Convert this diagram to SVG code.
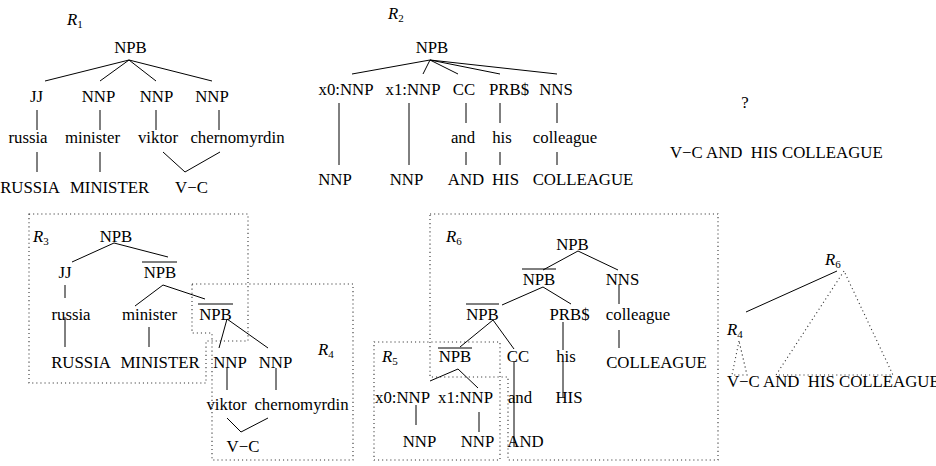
<svg xmlns="http://www.w3.org/2000/svg" width="936" height="466" viewBox="0 0 936 466">
<style>
text{font-family:"Liberation Serif","Times New Roman",serif;font-size:16.8px;fill:#000;text-anchor:middle}
.r{font-style:italic;text-anchor:start}
.s{font-size:11px;font-style:normal}
.st{text-anchor:start;white-space:pre}
.e{stroke:#000;stroke-width:1;fill:none}
.d{stroke:#333;stroke-width:1.1;fill:none;stroke-dasharray:1.1 3}
</style>
<rect width="936" height="466" fill="#fff"/>
<!-- regions -->
<g id="regions">
<path class="d" d="M29,214 H248 V341 H206 V383 H29 Z"/>
<path class="d" d="M192,284 H353 V460 H212 V333 H192 Z"/>
<path class="d" d="M430,214 H718 V460 H508 V377 H430 Z"/>
<rect class="d" x="374" y="342" width="126" height="118"/>
<path class="d" d="M739,341 L732,375 H747 Z"/>
<path class="d" d="M844,271 L776,375 H893 Z"/>
</g>
<g id="connectors">
<!-- R1 -->
<path class="e" d="M129,60 L45,81 M129,60 L100,81 M129,60 L156,81 M129,60 L212,81"/>
<path class="e" d="M37,110 V130 M100,110 V130 M156,110 V130 M219,110 V130"/>
<path class="e" d="M37,152 V172 M100,152 V172 M163,152 L185,172 L220,152"/>
<!-- R2 -->
<path class="e" d="M430,60 L352,74 M430,60 L423,74 M430,60 L458,74 M430,60 L500,74 M430,60 L557,74"/>
<path class="e" d="M339,103 V165 M409,103 V165 M466,103 V123 M500,103 V123 M557,103 V123"/>
<path class="e" d="M466,152 V165 M500,152 V165 M557,152 V165"/>
<!-- R3/R4 -->
<path class="e" d="M114,243 L72,262 M114,243 L168,257"/>
<path class="e" d="M65,285 V298 M163,285 L135,306 M163,285 L205,299"/>
<path class="e" d="M65,317 V347 M149,327 V347"/>
<path class="e" d="M227,319 L219,348 M227,319 L268,348"/>
<path class="e" d="M227,368 V390 M276,368 V390"/>
<path class="e" d="M227,418 L241,432 L268,418"/>
<!-- R5/R6 -->
<path class="e" d="M578,251 L543,270 M578,251 L618,270"/>
<path class="e" d="M543,287 L502,305 M543,287 L571,304 M619,285 V304"/>
<path class="e" d="M493,320 L460,347 M493,320 L514,349 M563,322 V350 M619,330 V348"/>
<path class="e" d="M514,362 V447 M563,362 V397"/>
<path class="e" d="M458,369 L430,381 M458,369 L478,388"/>
<path class="e" d="M416,405 V425 M479,412 V432"/>
<!-- right -->
<path class="e" d="M837,271 L746,312"/>
</g>
<!-- R1 tree -->
<g id="r1-label"><text class="r" x="67" y="25">R<tspan class="s" dy="3">1</tspan></text></g>
<g id="r1-npb"><text x="130.5" y="53">NPB</text></g>
<g id="r1-jj"><text x="36.5" y="102">JJ</text></g>
<g id="r1-nnp1"><text x="98.5" y="102">NNP</text></g>
<g id="r1-nnp2"><text x="156.5" y="102">NNP</text></g>
<g id="r1-nnp3"><text x="212" y="102">NNP</text></g>
<g id="r1-russia"><text x="28" y="143">russia</text></g>
<g id="r1-minister"><text x="92.5" y="143">minister</text></g>
<g id="r1-viktor"><text x="158" y="143">viktor</text></g>
<g id="r1-chern"><text x="237.5" y="143">chernomyrdin</text></g>
<g id="r1-RUSSIA"><text x="30" y="193">RUSSIA</text></g>
<g id="r1-MINISTER"><text x="109.5" y="193">MINISTER</text></g>
<g id="r1-VC"><text x="191.5" y="193">V−C</text></g>
<!-- R2 tree -->
<g id="r2-label"><text class="r" x="388" y="19">R<tspan class="s" dy="3">2</tspan></text></g>
<g id="r2-npb"><text x="432" y="53">NPB</text></g>
<g id="r2-x0"><text x="346" y="95">x0:NNP</text></g>
<g id="r2-x1"><text x="413" y="95">x1:NNP</text></g>
<g id="r2-cc"><text x="464" y="95">CC</text></g>
<g id="r2-prb"><text x="509" y="95">PRB$</text></g>
<g id="r2-nns"><text x="556" y="95">NNS</text></g>
<g id="r2-and"><text x="463" y="143">and</text></g>
<g id="r2-his"><text x="502" y="143">his</text></g>
<g id="r2-colleague"><text x="565" y="143">colleague</text></g>
<g id="r2-NNP1"><text x="335" y="185">NNP</text></g>
<g id="r2-NNP2"><text x="406.5" y="185">NNP</text></g>
<g id="r2-AND"><text x="466" y="185">AND</text></g>
<g id="r2-HIS"><text x="505.5" y="185">HIS</text></g>
<g id="r2-COLLEAGUE"><text x="583" y="185">COLLEAGUE</text></g>
<!-- right top -->
<g id="q"><text x="745" y="108">?</text></g>
<g id="target1"><text class="st" x="670" y="158">V−C AND  HIS COLLEAGUE</text></g>
<!-- R3/R4 -->
<g id="r3-label"><text class="r" x="33" y="242">R<tspan class="s" dy="3">3</tspan></text></g>
<g id="r3-npb"><text x="116" y="242">NPB</text></g>
<g id="r3-jj"><text x="65" y="278">JJ</text></g>
<g id="r3-npbbar"><text x="160" y="278">NPB</text><line class="e" x1="142" y1="262" x2="177" y2="262"/></g>
<g id="r3-russia"><text x="71" y="320">russia</text></g>
<g id="r3-minister"><text x="149.5" y="320">minister</text></g>
<g id="r4-npbbar"><text x="215.5" y="320">NPB</text><line class="e" x1="198" y1="304" x2="233" y2="304"/></g>
<g id="r3-RUSSIA"><text x="81" y="368">RUSSIA</text></g>
<g id="r3-MINISTER"><text x="160" y="368">MINISTER</text></g>
<g id="r4-nnp1"><text x="230" y="368">NNP</text></g>
<g id="r4-nnp2"><text x="275.5" y="368">NNP</text></g>
<g id="r4-label"><text class="r" x="318" y="355">R<tspan class="s" dy="3">4</tspan></text></g>
<g id="r4-viktor"><text x="226.5" y="410">viktor</text></g>
<g id="r4-chern"><text x="301.5" y="410">chernomyrdin</text></g>
<g id="r4-VC"><text x="243" y="452">V−C</text></g>
<!-- R5/R6 -->
<g id="r6-label"><text class="r" x="446" y="242">R<tspan class="s" dy="3">6</tspan></text></g>
<g id="r6-npb"><text x="572.5" y="250">NPB</text></g>
<g id="r6-npbbar1"><text x="539" y="285">NPB</text><line class="e" x1="522" y1="269" x2="556" y2="269"/></g>
<g id="r6-nns"><text x="622.5" y="285">NNS</text></g>
<g id="r6-npbbar2"><text x="482.5" y="320">NPB</text><line class="e" x1="466" y1="304" x2="499" y2="304"/></g>
<g id="r6-prb"><text x="569.5" y="320">PRB$</text></g>
<g id="r6-colleague"><text x="638" y="320">colleague</text></g>
<g id="r5-npbbar"><text x="455" y="362">NPB</text><line class="e" x1="438" y1="348" x2="472" y2="348"/></g>
<g id="r6-cc"><text x="518" y="362">CC</text></g>
<g id="r6-his"><text x="566" y="362">his</text></g>
<g id="r6-COLLEAGUE"><text x="656.5" y="368">COLLEAGUE</text></g>
<g id="r5-label"><text class="r" x="382" y="362">R<tspan class="s" dy="3">5</tspan></text></g>
<g id="r5-x0"><text x="402.5" y="403">x0:NNP</text></g>
<g id="r5-x1"><text x="465.5" y="403">x1:NNP</text></g>
<g id="r6-and"><text x="520" y="403">and</text></g>
<g id="r6-HIS"><text x="569" y="403">HIS</text></g>
<g id="r5-NNP1"><text x="419.5" y="447">NNP</text></g>
<g id="r5-NNP2"><text x="477.5" y="447">NNP</text></g>
<g id="r6-AND"><text x="525.5" y="447">AND</text></g>
<!-- right bottom -->
<g id="d-r6"><text class="r" x="825" y="265">R<tspan class="s" dy="3">6</tspan></text></g>
<g id="d-r4"><text class="r" x="727" y="335">R<tspan class="s" dy="3">4</tspan></text></g>
<g id="target2"><text class="st" x="727" y="387">V−C AND  HIS COLLEAGUE</text></g>
</svg>
